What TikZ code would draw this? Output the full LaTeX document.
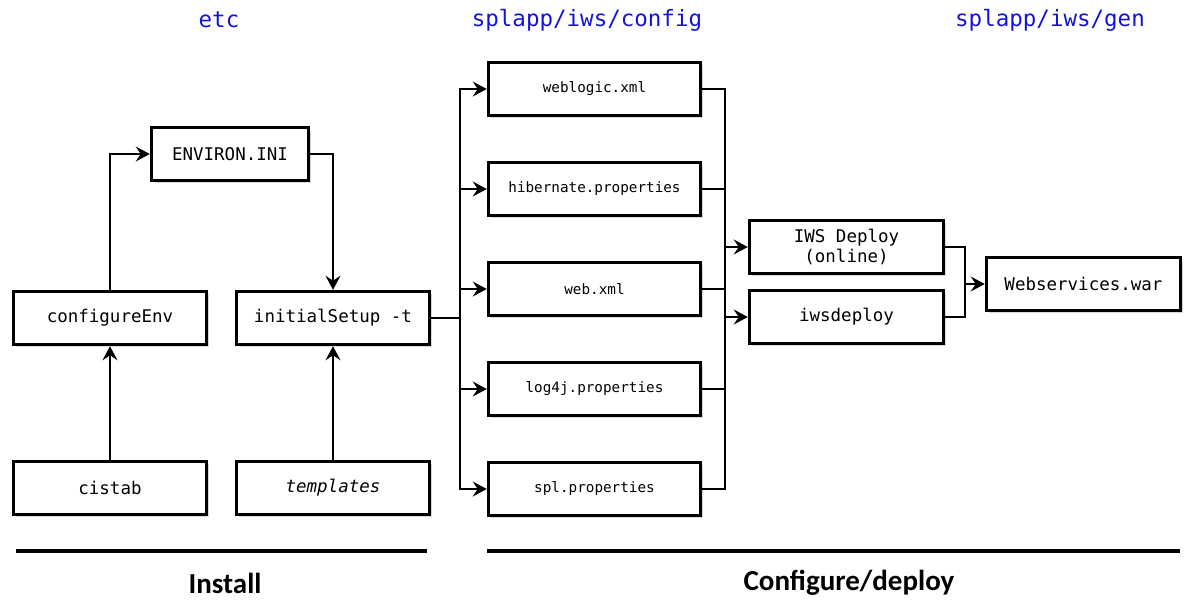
\documentclass[tikz,border=0pt]{standalone}
\usepackage{fontspec}
\setmonofont{DejaVu Sans Mono}
\setsansfont{Carlito}
\usepackage{tikz}
\usetikzlibrary{arrows.meta,shadows,positioning}
\definecolor{dirblue}{RGB}{20,20,215}
\tikzstyle{filebox} = [rectangle, draw, line width=3.5pt, fill=white, minimum width=193pt, minimum height=53pt, drop shadow={shadow xshift=2pt,shadow yshift=-2pt,opacity=0.3}, font=\ttfamily\fontsize{17.5}{20}\selectfont]
\tikzstyle{cfgbox} = [filebox, minimum width=212pt, font=\ttfamily\fontsize{14.3}{16}\selectfont]
\tikzstyle{dirlabel} = [text=dirblue, font=\ttfamily\fontsize{22.5}{26}\selectfont]
\tikzstyle{phase} = [font=\sffamily\bfseries\fontsize{29}{32}\selectfont]

\begin{document}
\begin{tikzpicture}[x=1pt,y=-1pt,->,>={Stealth[length=14pt,width=15pt,inset=5pt]},line width=1.3pt,node distance=43.5pt]
  \useasboundingbox (0,0) rectangle (1189,603);

  % folders
  \node[dirlabel] (etc) at (219,20) {etc};
  \node[dirlabel] (cfgdir) at (587,20) {splapp/iws/config};
  \node[dirlabel] (gendir) at (1050,20) {splapp/iws/gen};

  % install
  \node[filebox] (cistab) at (110,488) {cistab};
  \node[filebox] (templates) at (333,488) {\itshape templates};
  \node[filebox] (configureEnv) at (110,318) {configureEnv};
  \node[filebox] (initialSetup) at (333,318) {initialSetup -t};
  \node[filebox, minimum width=157pt] (ENVIRON) at (230,154) {ENVIRON.INI};

  % config files
  \node[cfgbox] (weblogic) at (594.5,89) {weblogic.xml};
  \node[cfgbox] (hibernate) [below=of weblogic] {hibernate.properties};
  \node[cfgbox] (webxml) [below=of hibernate] {web.xml};
  \node[cfgbox] (logfj) [below=of webxml] {log4j.properties};
  \node[cfgbox] (splprop) [below=of logfj] {spl.properties};

  % deploy
  \node[filebox, minimum width=194pt, align=center] (iwsonline) at (846.5,247) {IWS Deploy\\(online)};
  \node[filebox, minimum width=194pt] (iwsdeploy) at (846.5,317) {iwsdeploy};
  \node[filebox, minimum width=194pt] (war) at (1083.5,284) {Webservices.war};

  \coordinate (cfgbus) at (460,318);
  \coordinate (gather) at (725,282);
  \coordinate (warbus) at (965,284);

  \path (cistab) edge (configureEnv);
  \path (templates) edge (initialSetup);
  \draw (configureEnv) |- (ENVIRON);
  \draw (ENVIRON) -| (initialSetup);

  \draw[-] (initialSetup) -- (cfgbus);
  \draw (cfgbus) |- (weblogic);
  \draw (cfgbus) |- (hibernate);
  \draw (cfgbus) |- (webxml);
  \draw (cfgbus) |- (logfj);
  \draw (cfgbus) |- (splprop);

  \draw[-] (weblogic) -| (gather);
  \draw[-] (hibernate) -| (gather);
  \draw[-] (webxml) -| (gather);
  \draw[-] (logfj) -| (gather);
  \draw[-] (splprop) -| (gather);
  \draw (gather) |- (iwsonline);
  \draw (gather) |- (iwsdeploy);

  \draw[-] (iwsonline) -| (warbus);
  \draw[-] (iwsdeploy) -| (warbus);
  \draw (warbus) -- (war);

  % phases
  \draw[-,line width=4.5pt] (16,551) -- (427,551);
  \draw[-,line width=4.5pt] (487,551) -- (1180,551);
  \node[phase] (install) at (225,583) {Install};
  \node[phase] (deploy) at (849,583) {Configure/deploy};
\end{tikzpicture}
\end{document}
